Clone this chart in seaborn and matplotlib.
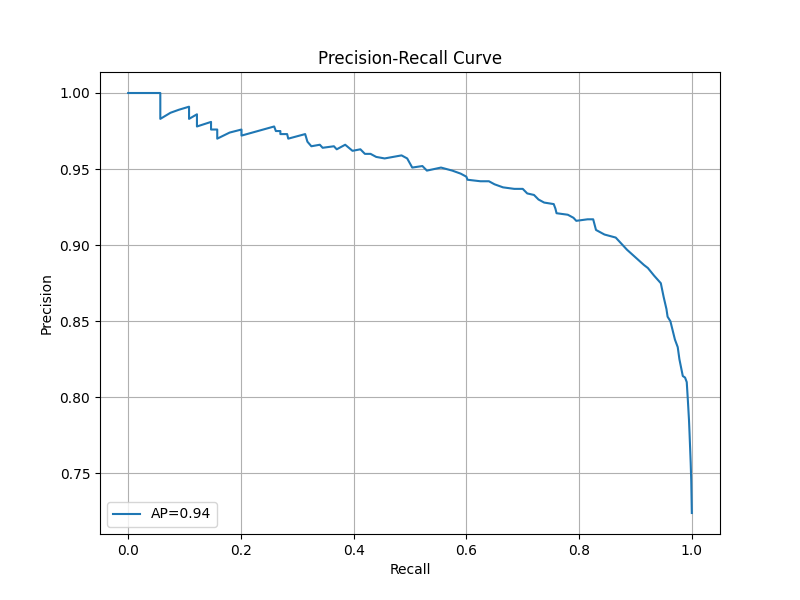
import matplotlib
matplotlib.use("Agg")
import matplotlib.pyplot as plt
import seaborn as sns
import pandas as pd

recall = [
    0.000, 0.057, 0.057, 0.075, 0.090, 0.108, 0.108, 0.122, 0.122, 0.147,
    0.147, 0.158, 0.158, 0.180, 0.201, 0.201, 0.230, 0.259, 0.262, 0.270,
    0.270, 0.282, 0.284, 0.314, 0.318, 0.325, 0.340, 0.345, 0.365, 0.370,
    0.385, 0.398, 0.412, 0.420, 0.430, 0.440, 0.455, 0.485, 0.495, 0.504,
    0.522, 0.530, 0.555, 0.575, 0.590, 0.600, 0.602, 0.625, 0.640, 0.650,
    0.665, 0.685, 0.700, 0.708, 0.720, 0.728, 0.738, 0.755, 0.758, 0.760,
    0.780, 0.790, 0.795, 0.815, 0.825, 0.830, 0.845, 0.865, 0.870, 0.885,
    0.900, 0.915, 0.922, 0.933, 0.945, 0.950, 0.955, 0.957, 0.962, 0.966,
    0.970, 0.975, 0.978, 0.984, 0.988, 0.991, 0.993, 0.995, 0.996, 0.998,
    0.999, 1.000,
]
precision = [
    1.000, 1.000, 0.983, 0.987, 0.989, 0.991, 0.983, 0.986, 0.978, 0.981,
    0.976, 0.976, 0.970, 0.974, 0.976, 0.972, 0.975, 0.978, 0.975, 0.975,
    0.973, 0.973, 0.970, 0.973, 0.968, 0.965, 0.966, 0.964, 0.965, 0.963,
    0.966, 0.962, 0.963, 0.960, 0.960, 0.958, 0.957, 0.959, 0.957, 0.951,
    0.952, 0.949, 0.951, 0.949, 0.947, 0.945, 0.943, 0.942, 0.942, 0.940,
    0.938, 0.937, 0.937, 0.934, 0.933, 0.930, 0.928, 0.927, 0.924, 0.921,
    0.920, 0.918, 0.916, 0.917, 0.917, 0.910, 0.907, 0.905, 0.903, 0.897,
    0.892, 0.887, 0.885, 0.880, 0.875, 0.866, 0.858, 0.853, 0.850, 0.844,
    0.838, 0.833, 0.825, 0.814, 0.813, 0.810, 0.798, 0.785, 0.776, 0.757,
    0.745, 0.724,
]
label = "AP=0.94"

df = pd.DataFrame({"Recall": recall, "Precision": precision})

fig, ax = plt.subplots(figsize=(8, 6), dpi=100)
sns.lineplot(data=df, x="Recall", y="Precision", sort=False, estimator=None,
             color="#1f77b4", linewidth=1.5, label=label, ax=ax)
ax.set_title("Precision-Recall Curve")
ax.set_xlabel("Recall")
ax.set_ylabel("Precision")
ax.grid(True)
ax.legend(loc="lower left")
fig.savefig("out.png", dpi=100)
